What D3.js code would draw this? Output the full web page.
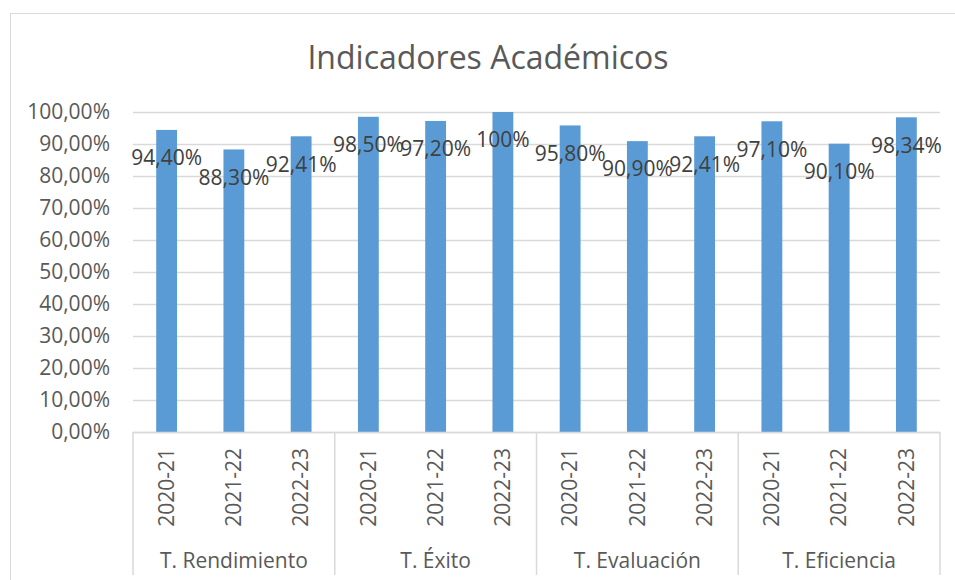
<!DOCTYPE html>
<html lang="es">
<head>
    <meta charset="UTF-8">
    <title>Indicadores Académicos</title>
    <script src="https://d3js.org/d3.v7.min.js"></script>
    <style>
        body { margin: 0; background: #fff; }
        svg { display: block; font-family: "Open Sans", sans-serif; }
    </style>
</head>
<body>
    <div id="chart"></div>
    <script>
        // data
        var groups = ["T. Rendimiento", "T. Éxito", "T. Evaluación", "T. Eficiencia"];
        var years = ["2020-21", "2021-22", "2022-23"];
        var values = [
            [0.944, 0.883, 0.9241],
            [0.985, 0.972, 1.00],
            [0.958, 0.909, 0.9241],
            [0.971, 0.901, 0.9834]
        ];
        var labels = [
            ["94,40%", "88,30%", "92,41%"],
            ["98,50%", "97,20%", "100%"],
            ["95,80%", "90,90%", "92,41%"],
            ["97,10%", "90,10%", "98,34%"]
        ];
        var yTicks = [0, 0.1, 0.2, 0.3, 0.4, 0.5, 0.6, 0.7, 0.8, 0.9, 1.0];

        var width = 955, height = 580;
        var plotLeft = 133, plotRight = 940, plotTop = 112, plotBottom = 432;

        var rows = [];
        groups.forEach(function(g, i) {
            years.forEach(function(y, j) {
                rows.push({ key: g + "|" + y, group: g, year: y, value: values[i][j], label: labels[i][j] });
            });
        });

        var svg = d3.select("#chart").append("svg")
            .attr("width", width)
            .attr("height", height);

        // chart border
        svg.append("rect")
            .attr("x", 10.5).attr("y", 13.5)
            .attr("width", 1000).attr("height", 1000)
            .attr("fill", "none")
            .attr("stroke", "#d9d9d9");

        svg.append("text")
            .attr("x", 488).attr("y", 69)
            .attr("text-anchor", "middle")
            .attr("font-size", 32)
            .attr("fill", "#595959")
            .text("Indicadores Académicos");

        var x = d3.scaleBand()
            .domain(rows.map(function(d) { return d.key; }))
            .range([plotLeft, plotRight]);

        var xGroup = d3.scaleBand()
            .domain(groups)
            .range([plotLeft, plotRight]);

        var y = d3.scaleLinear()
            .domain([0, 1])
            .range([plotBottom, plotTop]);

        var fmt = function(v) { return d3.format(".2f")(v * 100).replace(".", ",") + "%"; };

        // gridlines + y labels
        var yAxis = svg.append("g")
            .attr("transform", "translate(" + plotLeft + ",0)")
            .call(d3.axisLeft(y).tickValues(yTicks).tickFormat(fmt)
                .tickSize(-(plotRight - plotLeft)).tickPadding(23));
        yAxis.select(".domain").remove();
        yAxis.selectAll(".tick line").attr("stroke", "#d9d9d9").attr("stroke-width", 1.5);
        yAxis.selectAll(".tick text")
            .attr("font-size", 21)
            .attr("fill", "#595959")
            .attr("font-family", "Open Sans, sans-serif");

        // bars
        var bw = x.bandwidth() * 0.31;
        svg.selectAll("rect.bar")
            .data(rows)
            .enter().append("rect")
            .attr("class", "bar")
            .attr("x", function(d) { return x(d.key) + (x.bandwidth() - bw) / 2; })
            .attr("y", function(d) { return y(d.value); })
            .attr("width", bw)
            .attr("height", function(d) { return plotBottom - y(d.value); })
            .attr("fill", "#5b9bd5");

        // x axis line and group dividers
        svg.append("line")
            .attr("x1", plotLeft).attr("x2", plotRight)
            .attr("y1", plotBottom + 0.5).attr("y2", plotBottom + 0.5)
            .attr("stroke", "#d9d9d9").attr("stroke-width", 1.5);

        var edges = groups.map(function(g) { return xGroup(g); }).concat([plotRight]);
        svg.selectAll("line.div")
            .data(edges)
            .enter().append("line")
            .attr("class", "div")
            .attr("x1", function(d) { return d; }).attr("x2", function(d) { return d; })
            .attr("y1", plotBottom).attr("y2", 575)
            .attr("stroke", "#d9d9d9").attr("stroke-width", 1.5);

        // data labels
        svg.selectAll("text.lbl")
            .data(rows)
            .enter().append("text")
            .attr("class", "lbl")
            .attr("x", function(d) { return x(d.key) + x.bandwidth() / 2; })
            .attr("y", function(d) { return y(d.value) + 28; })
            .attr("dy", "0.35em")
            .attr("text-anchor", "middle")
            .attr("font-size", 21)
            .attr("fill", "#404040")
            .text(function(d) { return d.label; });

        // year labels (rotated)
        svg.selectAll("text.year")
            .data(rows)
            .enter().append("text")
            .attr("class", "year")
            .attr("transform", function(d) {
                return "translate(" + (x(d.key) + x.bandwidth() / 2) + "," + 448 + ") rotate(-90)";
            })
            .attr("dy", "0.35em")
            .attr("text-anchor", "end")
            .attr("font-size", 21)
            .attr("fill", "#595959")
            .text(function(d) { return d.year; });

        // group labels
        svg.selectAll("text.grp")
            .data(groups)
            .enter().append("text")
            .attr("class", "grp")
            .attr("x", function(d) { return xGroup(d) + xGroup.bandwidth() / 2; })
            .attr("y", 568)
            .attr("text-anchor", "middle")
            .attr("font-size", 21)
            .attr("fill", "#595959")
            .text(function(d) { return d; });
    </script>
</body>
</html>
